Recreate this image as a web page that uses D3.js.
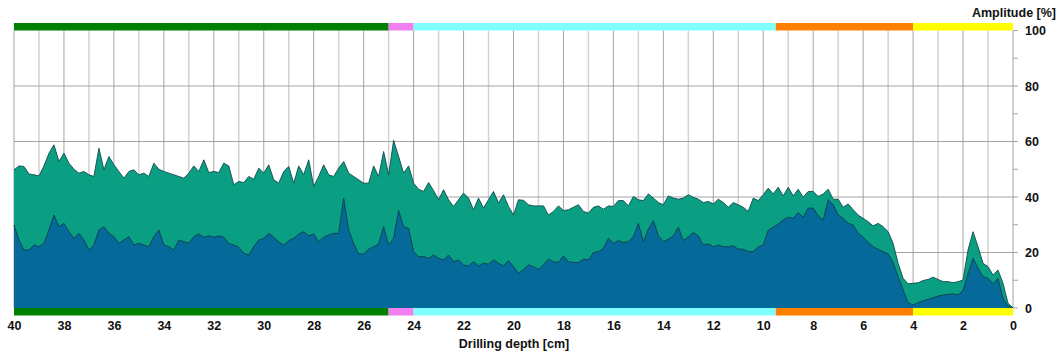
<!DOCTYPE html>
<html>
<head>
<meta charset="utf-8">
<script src="https://cdn.jsdelivr.net/npm/d3@7"></script>
<style>
  html, body { margin: 0; padding: 0; background: #fff; }
  svg { display: block; font-family: "Liberation Sans", Arial, Helvetica, sans-serif; }
</style>
</head>
<body>
<svg id="chart" width="1060" height="356"></svg>
<script>
// Sampling positions along the core (cm), 0.2 cm apart
const depthCm = [
  40,39.8,39.6,39.4,39.2,39,38.8,38.6,38.4,38.2,
  38,37.8,37.6,37.4,37.2,37,36.8,36.6,36.4,36.2,
  36,35.8,35.6,35.4,35.2,35,34.8,34.6,34.4,34.2,
  34,33.8,33.6,33.4,33.2,33,32.8,32.6,32.4,32.2,
  32,31.8,31.6,31.4,31.2,31,30.8,30.6,30.4,30.2,
  30,29.8,29.6,29.4,29.2,29,28.8,28.6,28.4,28.2,
  28,27.8,27.6,27.4,27.2,27,26.8,26.6,26.4,26.2,
  26,25.8,25.6,25.4,25.2,25,24.8,24.6,24.4,24.2,
  24,23.8,23.6,23.4,23.2,23,22.8,22.6,22.4,22.2,
  22,21.8,21.6,21.4,21.2,21,20.8,20.6,20.4,20.2,
  20,19.8,19.6,19.4,19.2,19,18.8,18.6,18.4,18.2,
  18,17.8,17.6,17.4,17.2,17,16.8,16.6,16.4,16.2,
  16,15.8,15.6,15.4,15.2,15,14.8,14.6,14.4,14.2,
  14,13.8,13.6,13.4,13.2,13,12.8,12.6,12.4,12.2,
  12,11.8,11.6,11.4,11.2,11,10.8,10.6,10.4,10.2,
  10,9.8,9.6,9.4,9.2,9,8.8,8.6,8.4,8.2,
  8,7.8,7.6,7.4,7.2,7,6.8,6.6,6.4,6.2,
  6,5.8,5.6,5.4,5.2,5,4.8,4.6,4.4,4.2,
  4,3.8,3.6,3.4,3.2,3,2.8,2.6,2.4,2.2,
  2,1.8,1.6,1.4,1.2,1,0.8,0.6,0.4,0.2,
  0
];

// Total amplitude (%) – upper envelope
const amplitudeTotal = [
  49.8,51.2,51.0,48.3,48.0,47.6,51.2,55.8,58.8,52.8,
  55.8,52.2,50.0,48.6,49.2,48.0,47.4,57.6,49.8,54.6,
  51.6,49.2,46.8,49.2,49.8,48.0,48.6,47.4,52.2,50.0,
  49.2,48.6,48.0,47.4,46.8,48.6,51.2,49.2,53.4,48.8,
  49.2,48.8,52.2,51.2,44.4,45.6,45.2,47.4,46.4,50.4,
  48.6,51.6,46.2,45.0,49.2,51.0,45.0,51.2,48.0,53.4,
  43.8,47.4,51.6,48.0,47.4,50.4,52.8,48.6,47.4,46.2,
  45.0,45.0,51.2,47.4,56.4,48.0,60.4,54.6,48.6,51.2,
  45.0,42.8,42.0,45.2,42.3,39.0,42.6,39.0,36.6,39.0,
  41.4,39.6,35.4,39.6,36.0,39.0,42.0,37.8,40.8,36.6,
  33.5,39.0,38.8,37.2,36.8,36.8,36.8,33.5,34.8,36.8,
  35.1,35.4,36.3,37.2,34.8,34.2,36.3,36.8,35.6,36.8,
  36.6,38.7,38.7,36.8,40.2,39.0,38.7,41.1,39.6,38.0,
  37.2,40.4,39.6,39.2,39.6,40.8,39.9,39.2,38.0,38.4,
  37.5,39.2,38.0,36.3,38.0,37.2,36.3,34.8,39.6,38.7,
  40.8,43.2,41.1,43.5,40.4,43.5,40.4,42.8,39.9,42.0,
  42.0,40.2,41.1,42.8,39.2,39.2,36.3,37.5,35.4,33.5,
  32.3,31.1,29.6,30.5,29.3,27.5,23.3,16.1,10.7,8.7,
  8.9,9.1,9.9,10.3,11.1,10.3,9.5,9.5,9.1,9.5,
  10.1,20.9,27.5,22.1,16.1,14.9,11.9,13.7,8.9,1.7,
  0
];

// Partial amplitude (%) – lower component
const amplitudePart = [
  29.9,24.5,20.9,20.9,22.7,22.1,23.3,28.1,33.5,29.3,
  30.5,27.5,25.1,26.9,24.5,20.9,22.7,28.1,29.3,26.9,
  25.7,23.3,24.5,25.7,22.7,23.3,22.7,22.1,25.7,28.1,
  22.7,22.1,20.9,24.5,23.9,23.3,25.7,26.7,25.5,26.0,
  25.5,26.0,25.5,23.3,22.7,21.9,19.7,19.1,22.1,24.5,
  25.1,26.9,25.5,23.9,22.7,24.3,25.1,26.7,27.5,26.0,
  26.7,23.9,25.5,26.3,26.9,26.9,39.6,28.1,23.3,19.5,
  19.5,21.2,22.1,23.1,29.3,22.7,25.1,35.1,29.3,28.7,
  20.3,18.5,18.5,17.9,19.1,17.9,17.3,19.1,16.7,17.3,
  15.5,15.2,16.7,15.2,16.1,15.8,17.3,16.1,15.2,17.1,
  14.9,12.5,13.9,15.5,14.9,13.9,15.5,17.6,16.7,16.4,
  18.8,16.7,16.4,16.4,17.6,17.3,20.0,20.3,21.5,25.1,
  23.3,24.3,23.6,23.9,25.7,30.5,23.9,28.4,31.5,26.0,
  23.9,24.8,26.0,29.1,24.3,25.7,27.2,26.0,22.7,23.1,
  22.1,22.7,22.1,22.1,22.4,21.2,21.2,20.3,20.3,22.1,
  22.7,28.1,29.1,30.3,31.7,32.7,32.3,34.4,32.7,36.0,
  36.0,33.2,31.7,39.0,37.2,33.5,32.3,30.5,29.9,26.9,
  25.5,23.6,22.1,21.2,20.3,19.5,16.4,11.3,6.5,1.9,
  1.1,1.9,2.6,3.1,3.7,4.3,4.7,4.9,5.1,4.7,
  6.3,12.5,17.9,14.3,11.3,10.7,8.7,10.7,3.5,0.7,
  0
];

// Core sections shown as coloured bands above and below the plot
const zoneFrom   = [40, 25, 24, 9.5, 4];
const zoneTo     = [25, 24, 9.5, 4, 0];
const zoneColors = ["#008000", "#f27ff0", "#80ffff", "#ff8000", "#ffff00"];

const depthTicks = [40, 38, 36, 34, 32, 30, 28, 26, 24, 22, 20, 18, 16, 14, 12, 10, 8, 6, 4, 2, 0];
const ampTicks   = [0, 20, 40, 60, 80, 100];

const svg = d3.select("#chart");
const plotLeft = 14, plotRight = 1013, plotTop = 30.5, plotBottom = 308, band = 7.5;

const x = d3.scaleLinear().domain([40, 0]).range([plotLeft, plotRight]);
const y = d3.scaleLinear().domain([0, 100]).range([plotBottom, plotTop]);

// grid: every centimetre (odd ones lighter), every 20 % horizontally
const grid = svg.append("g");
grid.selectAll("line.v").data(d3.range(0, 41)).join("line")
  .attr("x1", d => x(d)).attr("x2", d => x(d))
  .attr("y1", plotTop).attr("y2", plotBottom)
  .attr("stroke", d => d % 2 === 0 ? "#9a9a9a" : "#d2d2d2")
  .attr("stroke-width", d => d % 2 === 0 ? 0.9 : 1.5);
grid.selectAll("line.h").data([20, 40, 60, 80]).join("line")
  .attr("x1", plotLeft).attr("x2", plotRight)
  .attr("y1", d => y(d)).attr("y2", d => y(d))
  .attr("stroke", "#9a9a9a").attr("stroke-width", 0.9);

const rows = depthCm.map((d, i) => ({ d, total: amplitudeTotal[i], part: amplitudePart[i] }));

const areaTotal = d3.area().x(r => x(r.d)).y0(y(0)).y1(r => y(r.total));
const areaPart  = d3.area().x(r => x(r.d)).y0(y(0)).y1(r => y(r.part));
const lineTotal = d3.line().x(r => x(r.d)).y(r => y(r.total));
const linePart  = d3.line().x(r => x(r.d)).y(r => y(r.part));

svg.append("path").datum(rows).attr("d", areaTotal).attr("fill", "#0a9e82");
svg.append("path").datum(rows).attr("d", lineTotal)
  .attr("fill", "none").attr("stroke", "#0e4a4c").attr("stroke-width", 0.9);
svg.append("path").datum(rows).attr("d", areaPart).attr("fill", "#05699a");
svg.append("path").datum(rows).attr("d", linePart)
  .attr("fill", "none").attr("stroke", "#0b3f4e").attr("stroke-width", 0.9);

// section bands
const zones = zoneFrom.map((f, i) => ({ from: f, to: zoneTo[i], color: zoneColors[i] }));
[plotTop - band, plotBottom].forEach(yb => {
  svg.append("g").selectAll("rect").data(zones).join("rect")
    .attr("x", z => x(z.from)).attr("width", z => x(z.to) - x(z.from))
    .attr("y", yb).attr("height", band)
    .attr("fill", z => z.color);
});

// bottom axis
const xAxis = svg.append("g").attr("transform", `translate(0,${plotBottom + band})`)
  .call(d3.axisBottom(x).tickValues(depthTicks).tickSize(0).tickPadding(6).tickFormat(d3.format("d")));
xAxis.select(".domain").remove();
xAxis.selectAll("text").attr("font-size", 12.5).attr("font-weight", "bold")
  .attr("font-family", "Liberation Sans, Arial, sans-serif").attr("fill", "#111");

// right axis
svg.append("g").selectAll("line").data(d3.range(0, 101, 10)).join("line")
  .attr("x1", plotRight).attr("x2", plotRight + 5)
  .attr("y1", d => y(d)).attr("y2", d => y(d))
  .attr("stroke", "#9a9a9a").attr("stroke-width", 0.9);
const yAxis = svg.append("g").attr("transform", `translate(${plotRight},0)`)
  .call(d3.axisRight(y).tickValues(ampTicks).tickSize(0).tickPadding(12).tickFormat(d3.format("d")));
yAxis.select(".domain").remove();
yAxis.selectAll("text").attr("font-size", 12.5).attr("font-weight", "bold")
  .attr("font-family", "Liberation Sans, Arial, sans-serif").attr("fill", "#111");

// titles
svg.append("text").attr("x", 1056).attr("y", 17).attr("text-anchor", "end")
  .attr("font-size", 12.5).attr("font-weight", "bold").attr("fill", "#111")
  .text("Amplitude [%]");
svg.append("text").attr("x", 514).attr("y", 347.5).attr("text-anchor", "middle")
  .attr("font-size", 12.5).attr("font-weight", "bold").attr("fill", "#111")
  .text("Drilling depth [cm]");
</script>
</body>
</html>
